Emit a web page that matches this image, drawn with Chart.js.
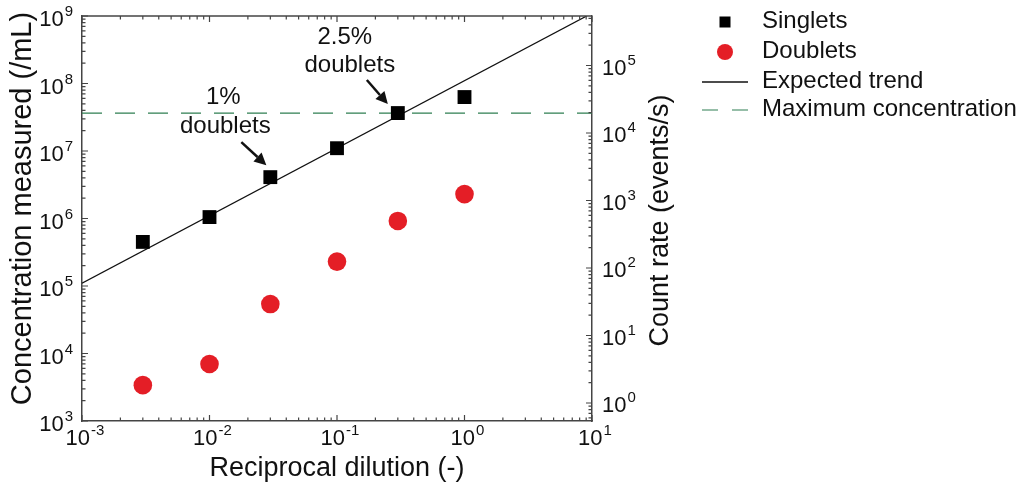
<!DOCTYPE html>
<html><head><meta charset="utf-8">
<script src="https://cdn.jsdelivr.net/npm/chart.js@4.4.0/dist/chart.umd.min.js"></script>
<style>html,body{margin:0;padding:0;background:#fff;} #wrap{width:1026px;height:485px;position:relative;}</style>
</head><body><div id="wrap"><canvas id="c" width="1026" height="485"></canvas></div>
<script>
// ---- data ----
const dilution = [0.003, 0.01, 0.03, 0.1, 0.3, 1];
const singlets = [4.5e5, 1.05e6, 4.1e6, 1.1e7, 3.65e7, 6.3e7];
const doublets = [3.4e3, 7.0e3, 5.4e4, 2.3e5, 9.2e5, 2.3e6];
const trendX = [0.001, 9.09];
const trendY = [1.1e5, 1.0e9];
const maxConcX = [0.001, 10];
const maxConcY = [3.65e7, 3.65e7];
const xRange = [1e-3, 1e1];
const concRange = [1e3, 1e9];
const countRange = [0.541, 5.41e5];
const xTickExps = [-3, -2, -1, 0, 1];
const concTickExps = [3, 4, 5, 6, 7, 8, 9];
const countTickExps = [0, 1, 2, 3, 4, 5];
const annotations = [
  {point: 2, lines: ['1%', 'doublets']},
  {point: 4, lines: ['2.5%', 'doublets']}
];

const FONT = "'Liberation Sans', Arial, Helvetica, sans-serif";
const INK = '#111';
const FRAME = '#444';
const RED = '#e41e26';
const GREEN = '#2f7f52';

function drawPow(ctx, exp, x, y, align) {
  ctx.save();
  ctx.textBaseline = 'middle';
  ctx.textAlign = 'left';
  ctx.fillStyle = INK;
  ctx.font = '22px ' + FONT;
  const wb = ctx.measureText('10').width;
  ctx.font = '15px ' + FONT;
  const es = String(exp);
  const we = ctx.measureText(es).width;
  const total = wb + 1 + we;
  const x0 = align === 'right' ? x - total : (align === 'center' ? x - total / 2 : x);
  ctx.font = '22px ' + FONT;
  ctx.fillText('10', x0, y);
  ctx.font = '15px ' + FONT;
  ctx.fillText(es, x0 + wb + 1, y - 8);
  ctx.restore();
}

function tickVals(min, max) {
  const out = [];
  for (let e = Math.floor(Math.log10(min)); e <= Math.ceil(Math.log10(max)); e++) {
    for (let k = 1; k < 10; k++) {
      const v = k * Math.pow(10, e);
      if (v >= min * 0.9999 && v <= max * 1.0001) out.push({v: v, major: k === 1});
    }
  }
  return out;
}

function arrow(ctx, x1, y1, x2, y2) {
  const ang = Math.atan2(y2 - y1, x2 - x1);
  const hl = 12, hw = 6;
  const bx = x2 - hl * Math.cos(ang), by = y2 - hl * Math.sin(ang);
  ctx.save();
  ctx.strokeStyle = INK; ctx.fillStyle = INK; ctx.lineWidth = 2.5;
  ctx.beginPath(); ctx.moveTo(x1, y1); ctx.lineTo(bx, by); ctx.stroke();
  ctx.beginPath();
  ctx.moveTo(x2, y2);
  ctx.lineTo(bx + hw * Math.sin(ang), by - hw * Math.cos(ang));
  ctx.lineTo(bx - hw * Math.sin(ang), by + hw * Math.cos(ang));
  ctx.closePath(); ctx.fill();
  ctx.restore();
}

const decor = {
  id: 'decor',
  afterDraw(chart) {
    const ctx = chart.ctx;
    const {x, y, y2} = chart.scales;
    const a = chart.chartArea;
    ctx.save();
    // top frame line
    ctx.strokeStyle = FRAME; ctx.lineWidth = 1.5;
    ctx.beginPath(); ctx.moveTo(a.left, a.top); ctx.lineTo(a.right, a.top); ctx.stroke();
    // inward ticks
    ctx.lineWidth = 1.2;
    ctx.beginPath();
    tickVals(xRange[0], xRange[1]).forEach(t => {
      const px = x.getPixelForValue(t.v), len = t.major ? 6 : 3.5;
      ctx.moveTo(px, a.bottom); ctx.lineTo(px, a.bottom - len);
      ctx.moveTo(px, a.top); ctx.lineTo(px, a.top + len);
    });
    tickVals(concRange[0], concRange[1]).forEach(t => {
      const py = y.getPixelForValue(t.v), len = t.major ? 6 : 3.5;
      ctx.moveTo(a.left, py); ctx.lineTo(a.left + len, py);
    });
    tickVals(countRange[0], countRange[1]).forEach(t => {
      const py = y2.getPixelForValue(t.v), len = t.major ? 6 : 3.5;
      ctx.moveTo(a.right, py); ctx.lineTo(a.right - len, py);
    });
    ctx.stroke();
    // tick labels
    xTickExps.forEach(e => drawPow(ctx, e, x.getPixelForValue(Math.pow(10, e)) + 3, a.bottom + 18, 'center'));
    concTickExps.forEach(e => drawPow(ctx, e, a.left - 9, y.getPixelForValue(Math.pow(10, e)) + 4, 'right'));
    countTickExps.forEach(e => drawPow(ctx, e, a.right + 10, y2.getPixelForValue(Math.pow(10, e)) + 3, 'left'));
    // vertical axis titles (both read bottom-to-top)
    ctx.fillStyle = INK; ctx.textAlign = 'center'; ctx.textBaseline = 'middle';
    ctx.save(); ctx.translate(23, (a.top + a.bottom) / 2 - 10); ctx.rotate(-Math.PI / 2);
    ctx.font = '29px ' + FONT; ctx.fillText(y.options.title.text, 0, 0); ctx.restore();
    ctx.save(); ctx.translate(661, (a.top + a.bottom) / 2 + 2); ctx.rotate(-Math.PI / 2);
    ctx.font = '27px ' + FONT; ctx.fillText(y2.options.title.text, 0, 0); ctx.restore();
    // annotations
    ctx.font = '24px ' + FONT;
    annotations.forEach((an, i) => {
      const px = x.getPixelForValue(dilution[an.point]);
      const py = y.getPixelForValue(singlets[an.point]);
      const off = i === 0 ? {t1: [-47, -80], t2: [-45, -51], tip: [-4, -12], tail: [-29, -35]}
                          : {t1: [-53, -76], t2: [-48, -48], tip: [-10, -9], tail: [-31, -33]};
      ctx.fillText(an.lines[0], px + off.t1[0], py + off.t1[1]);
      ctx.fillText(an.lines[1], px + off.t2[0], py + off.t2[1]);
      arrow(ctx, px + off.tail[0], py + off.tail[1], px + off.tip[0], py + off.tip[1]);
    });
    // legend
    const lx = 725, tx = 762, rows = [21, 51, 81, 109];
    chart.data.datasets.forEach((ds, i) => {
      const ry = rows[i];
      if (ds.pointStyle === 'rect') {
        ctx.fillStyle = ds.backgroundColor; ctx.fillRect(lx - 5.5, ry - 4.5, 11, 11);
      } else if (ds.pointStyle === 'circle') {
        ctx.fillStyle = ds.backgroundColor; ctx.beginPath(); ctx.arc(lx, ry + 1, 8, 0, Math.PI * 2); ctx.fill();
      } else {
        ctx.save(); ctx.strokeStyle = ds.borderColor; ctx.lineWidth = ds.borderWidth;
        ctx.setLineDash(ds.borderDash ? [16, 14] : []);
        ctx.beginPath(); ctx.moveTo(702, ry + 1); ctx.lineTo(748, ry + 1); ctx.stroke(); ctx.restore();
      }
      ctx.fillStyle = INK; ctx.textAlign = 'left'; ctx.textBaseline = 'middle';
      ctx.font = '24px ' + FONT;
      ctx.fillText(ds.label, tx, ry);
    });
    ctx.restore();
  }
};

const pts = (xs, ys) => xs.map((v, i) => ({x: v, y: ys[i]}));

new Chart(document.getElementById('c'), {
  type: 'scatter',
  data: {
    datasets: [
      {label: 'Singlets', data: pts(dilution, singlets), pointStyle: 'rect', pointRadius: 9.8,
       backgroundColor: '#000', borderColor: '#000', borderWidth: 0, yAxisID: 'y'},
      {label: 'Doublets', data: pts(dilution, doublets), pointStyle: 'circle', pointRadius: 9.3,
       backgroundColor: RED, borderColor: RED, borderWidth: 0, yAxisID: 'y'},
      {label: 'Expected trend', data: pts(trendX, trendY), showLine: true, pointRadius: 0,
       borderColor: INK, borderWidth: 1.3, yAxisID: 'y'},
      {label: 'Maximum concentration', data: pts(maxConcX, maxConcY), showLine: true, pointRadius: 0,
       borderColor: GREEN, borderWidth: 1.2, borderDash: [20, 13], yAxisID: 'y'}
    ]
  },
  options: {
    responsive: false, animation: false, devicePixelRatio: 1,
    layout: {padding: {top: 16, left: 0, bottom: 0, right: 344}},
    plugins: {legend: {display: false}, tooltip: {enabled: false}},
    scales: {
      x: {type: 'logarithmic', position: 'bottom', min: xRange[0], max: xRange[1],
          ticks: {display: false}, grid: {display: true, drawOnChartArea: false, drawTicks: false},
          border: {display: true, color: FRAME, width: 1.5},
          title: {display: true, text: 'Reciprocal dilution (-)', color: INK,
                  font: {family: FONT, size: 27}, padding: {top: 0, bottom: 0}},
          afterFit: s => { s.height = 64; }},
      y: {type: 'logarithmic', position: 'left', min: concRange[0], max: concRange[1],
          ticks: {display: false}, grid: {display: true, drawOnChartArea: false, drawTicks: false},
          border: {display: true, color: FRAME, width: 1.5},
          title: {display: false, text: 'Concentration measured (/mL)'},
          afterFit: s => { s.width = 82; }},
      y2: {type: 'logarithmic', position: 'right', min: countRange[0], max: countRange[1],
          ticks: {display: false}, grid: {display: true, drawOnChartArea: false, drawTicks: false},
          border: {display: true, color: FRAME, width: 1.5},
          title: {display: false, text: 'Count rate (events/s)'},
          afterFit: s => { s.width = 90; }}
    }
  },
  plugins: [decor]
});
</script>
</body></html>
